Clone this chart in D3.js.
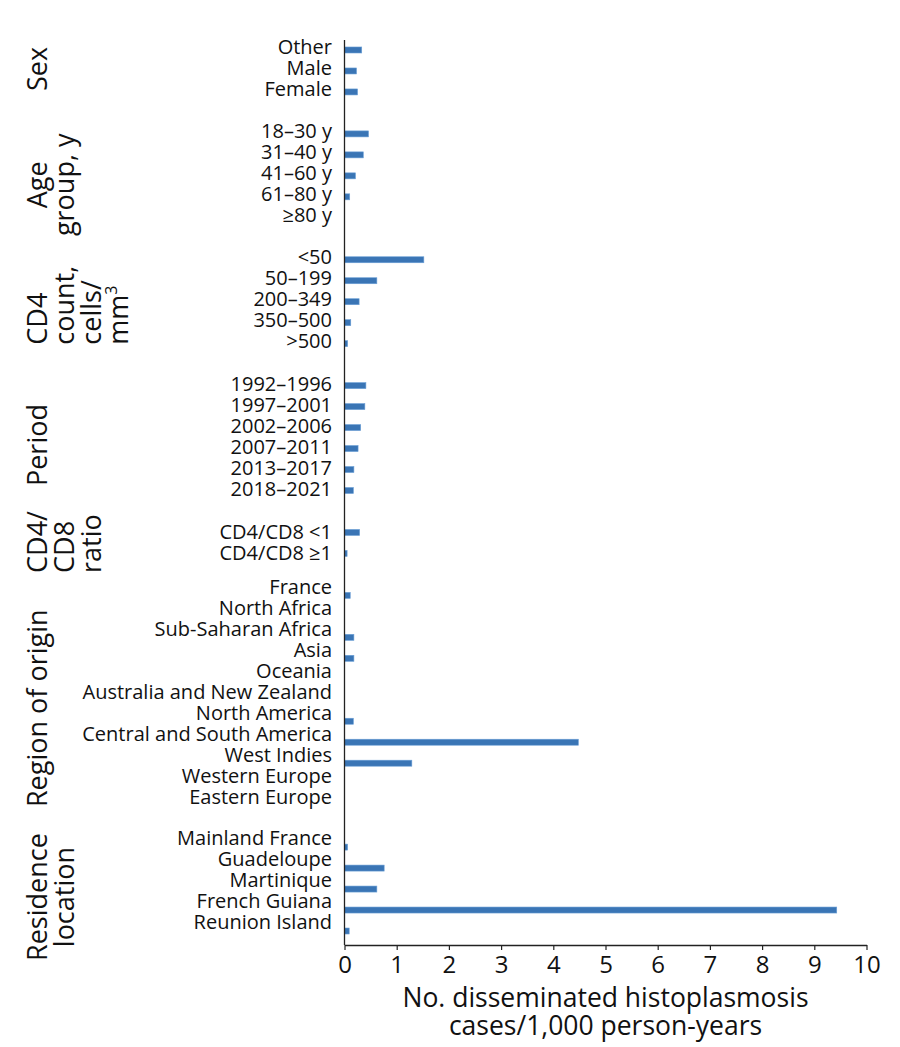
<!DOCTYPE html>
<html>
<head>
<meta charset="utf-8">
<script src="https://cdn.jsdelivr.net/npm/d3@7"></script>
<style>
  body { margin: 0; background: #fff; }
  svg { display: block; font-family: "Open Sans", "Noto Sans", sans-serif; }
</style>
</head>
<body>
<div id="chart"></div>
<script>
// Group titles (one entry per line)
const groupTitles = [
    ['Sex'],
    ['Age', 'group, y'],
    ['CD4', 'count,', 'cells/', 'mm3'],
    ['Period'],
    ['CD4/', 'CD8', 'ratio'],
    ['Region of origin'],
    ['Residence', 'location']
];

// Categories + values (cases / 1,000 person-years)
const sexLabels = ['Other', 'Male', 'Female'];
const sexValues = [0.33, 0.23, 0.25];

const ageLabels = ['18–30 y', '31–40 y', '41–60 y', '61–80 y', '≥80 y'];
const ageValues = [0.46, 0.36, 0.21, 0.10, 0];

const cd4Labels = ['<50', '50–199', '200–349', '350–500', '>500'];
const cd4Values = [1.52, 0.62, 0.28, 0.12, 0.06];

const periodLabels = ['1992–1996', '1997–2001', '2002–2006', '2007–2011', '2013–2017', '2018–2021'];
const periodValues = [0.41, 0.39, 0.31, 0.26, 0.18, 0.17];

const ratioLabels = ['CD4/CD8 <1', 'CD4/CD8 ≥1'];
const ratioValues = [0.29, 0.05];

const originLabels = ['France', 'North Africa', 'Sub-Saharan Africa', 'Asia', 'Oceania',
    'Australia and New Zealand', 'North America', 'Central and South America',
    'West Indies', 'Western Europe', 'Eastern Europe'];
const originValues = [0.11, 0, 0.18, 0.18, 0, 0, 0.17, 4.48, 1.29, 0, 0];

const residenceLabels = ['Mainland France', 'Guadeloupe', 'Martinique', 'French Guiana', 'Reunion Island'];
const residenceValues = [0.06, 0.76, 0.62, 9.43, 0.09];

const xTicks = [0, 1, 2, 3, 4, 5, 6, 7, 8, 9, 10];
const xTitle = ['No. disseminated histoplasmosis', 'cases/1,000 person-years'];

const groupLabels = [sexLabels, ageLabels, cd4Labels, periodLabels, ratioLabels, originLabels, residenceLabels];
const groupValues = [sexValues, ageValues, cd4Values, periodValues, ratioValues, originValues, residenceValues];

// --- styling per group (label nudge, title placement) ---
const labelShift = [-3.3, -3, -2.5, -1.5, -0.8, -8.5, -9.5];
const titleStyle = [
    { anchor: 'middle', shift: -2 },
    { anchor: 'middle', shift: 9 },
    { anchor: 'start', shift: 43 },
    { anchor: 'middle', shift: 7 },
    { anchor: 'start', shift: 30 },
    { anchor: 'middle', shift: 8 },
    { anchor: 'middle', shift: 8 }
];

const width = 900;
const height = 1047;
const axisX0 = 344.5;
const axisX1 = 866.5;
const axisY = 945;
const barH = 6;
const barColor = '#3a75b5';

// build row slots, with an empty slot between groups
const slots = [];
const rows = [];
groupLabels.forEach((labels, gi) => {
    labels.forEach((label, i) => {
        const id = `g${gi}-${i}`;
        slots.push(id);
        rows.push({ id, group: gi, label, value: groupValues[gi][i] });
    });
    if (gi < groupLabels.length - 1) slots.push(`gap${gi}`);
});

const y = d3.scalePoint()
    .domain(slots)
    .range([39.5, 941.5])
    .padding(0.5);

const x = d3.scaleLinear()
    .domain([0, 10])
    .range([axisX0, axisX1]);

const svg = d3.select('#chart').append('svg')
    .attr('width', width)
    .attr('height', height);

svg.append('rect')
    .attr('width', width)
    .attr('height', height)
    .attr('fill', '#fff');

// Bars
svg.append('g')
    .selectAll('rect')
    .data(rows.filter(d => d.value > 0))
    .join('rect')
    .attr('x', x(0))
    .attr('y', d => y(d.id) - barH / 2)
    .attr('width', d => x(d.value) - x(0))
    .attr('height', barH)
    .attr('fill', barColor)
    .attr('stroke', '#6b9fd6')
    .attr('stroke-width', 0.6);

// Category labels
svg.append('g')
    .selectAll('text')
    .data(rows)
    .join('text')
    .attr('x', 332)
    .attr('y', d => y(d.id) + labelShift[d.group])
    .attr('dy', '0.35em')
    .attr('text-anchor', 'end')
    .style('font-size', '20px')
    .style('fill', '#111')
    .text(d => d.label);

// Group titles (rotated)
groupTitles.forEach((lines, gi) => {
    const ids = groupLabels[gi].map((_, i) => `g${gi}-${i}`);
    const center = (y(ids[0]) + y(ids[ids.length - 1])) / 2;
    const st = titleStyle[gi];

    const t = svg.append('text')
        .attr('transform', `translate(47,${center + st.shift}) rotate(-90)`)
        .attr('text-anchor', st.anchor)
        .style('font-size', '27px')
        .style('fill', '#111');

    lines.forEach((line, li) => {
        if (line === 'mm3') {
            t.append('tspan').attr('x', 0).attr('dy', 27).text('mm');
            t.append('tspan')
                .attr('dy', -11)
                .style('font-size', '16px')
                .text('3');
        } else {
            t.append('tspan')
                .attr('x', 0)
                .attr('dy', li === 0 ? 0 : 27)
                .text(line);
        }
    });
});

// Y axis line
svg.append('line')
    .attr('x1', axisX0)
    .attr('x2', axisX0)
    .attr('y1', 40)
    .attr('y2', axisY)
    .attr('stroke', '#222')
    .attr('stroke-width', 1.3);

// X axis
const xAxis = svg.append('g')
    .attr('transform', `translate(0,${axisY})`)
    .call(d3.axisBottom(x)
        .tickValues(xTicks)
        .tickFormat(d3.format('d'))
        .tickSize(5)
        .tickSizeOuter(0)
        .tickPadding(6));

xAxis.select('.domain').attr('stroke', '#222').attr('stroke-width', 1.3);
xAxis.selectAll('.tick line').attr('stroke', '#222').attr('stroke-width', 1.2);
xAxis.selectAll('.tick text')
    .style('font-family', '"Open Sans", sans-serif')
    .style('font-size', '24px')
    .style('fill', '#111');

// X axis title
svg.append('text')
    .attr('x', (axisX0 + axisX1) / 2)
    .attr('y', 1007)
    .attr('text-anchor', 'middle')
    .style('font-size', '26.5px')
    .style('fill', '#111')
    .selectAll('tspan')
    .data(xTitle)
    .join('tspan')
    .attr('x', (axisX0 + axisX1) / 2)
    .attr('dy', (d, i) => i === 0 ? 0 : 28)
    .text(d => d);
</script>
</body>
</html>
